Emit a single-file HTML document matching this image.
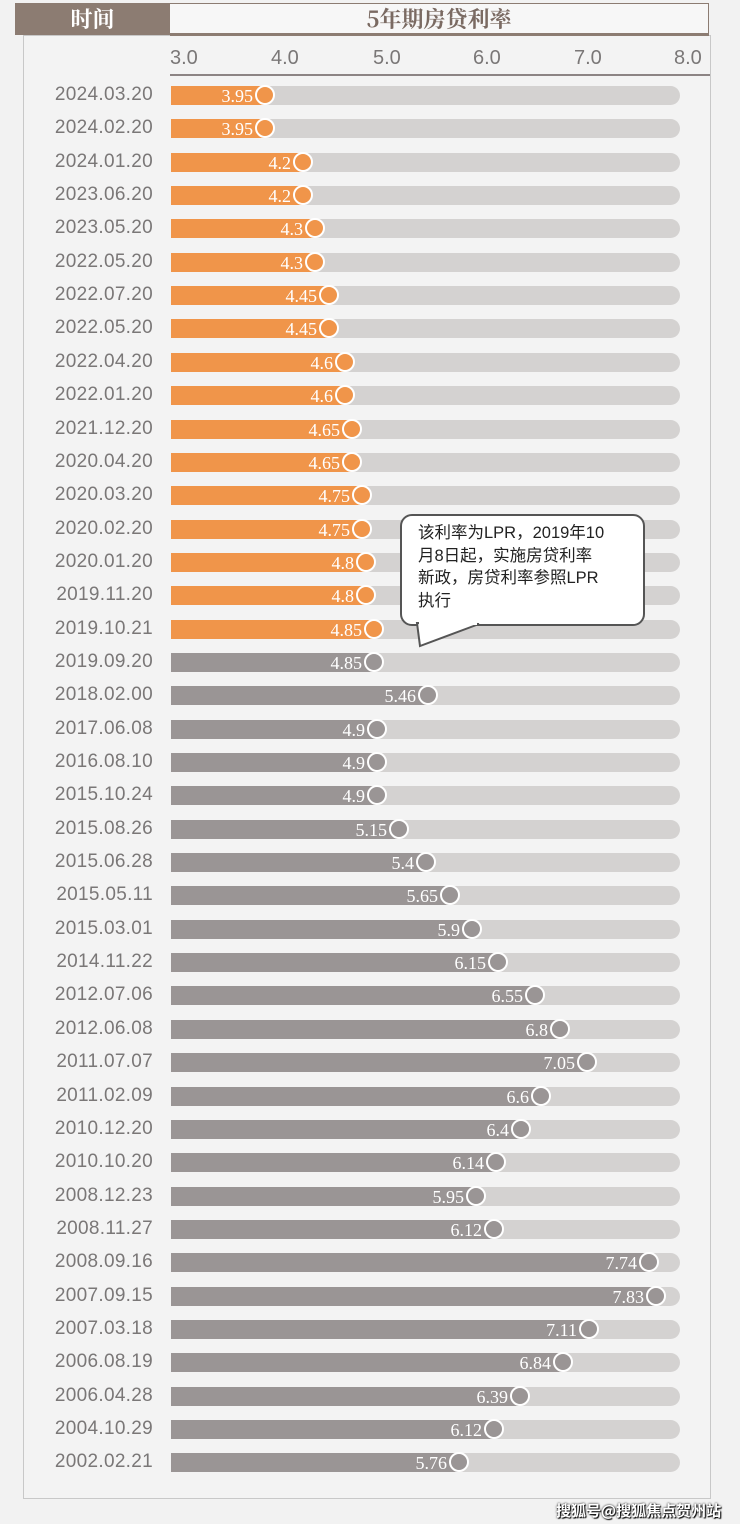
<!DOCTYPE html>
<html><head><meta charset="utf-8"><style>
body{margin:0;width:740px;height:1524px;background:#f2f2f2;position:relative;overflow:hidden;font-family:"Liberation Serif","Noto Serif CJK SC",serif}
.a{position:absolute}
.row{position:absolute;left:0;width:740px;height:20px}
.dt{position:absolute;left:20px;width:133px;text-align:right;font-family:"Liberation Sans",sans-serif;font-size:19px;color:#7a7777;top:0;line-height:20px;letter-spacing:0.3px}
.tr{position:absolute;left:171px;width:509px;height:19px;top:1px;background:#d4d2d1;border-radius:0 10px 10px 0}
.br{position:absolute;left:171px;height:19px;top:1px}
.c{position:absolute;width:16px;height:16px;border:2px solid #fff;border-radius:50%;top:0}
.v{position:absolute;right:0;color:#fff;font-size:18px;line-height:21px;top:0}
</style></head><body>
<div class="a" style="left:23px;top:35px;width:686px;height:1462px;border:1px solid #c8c8c8;background:#f3f3f3"></div>
<div class="a" style="left:15px;top:3px;width:155px;height:32px;background:#8c7c72;color:#fff;font-size:22px;font-weight:bold;text-align:center;line-height:32px;font-family:'Noto Serif CJK SC',serif">时间</div>
<div class="a" style="left:170px;top:3px;width:538px;height:29px;border:1px solid #8c7c72;border-bottom:3px solid #8c7c72;border-left:none;background:#f7f7f7;color:#7a6a62;font-size:22px;text-align:center;line-height:30px;font-weight:bold;font-family:'Noto Serif CJK SC',serif">5年期房贷利率</div>
<div class="a" style="left:170px;top:74px;width:540px;height:2px;background:#8c8484"></div>
<div class="a" style="top:47px;left:0;width:740px;font-family:'Liberation Sans',sans-serif;font-size:20px;color:#7a7777">
<span class="a" style="left:170px">3.0</span><span class="a" style="left:271px">4.0</span><span class="a" style="left:373px">5.0</span><span class="a" style="left:473px">6.0</span><span class="a" style="left:574px">7.0</span><span class="a" style="left:674px">8.0</span></div>
<div id="rows"></div>
<div class="a" style="left:400px;top:514px;width:245px;height:112px;background:#fff;border:2px solid #555;border-radius:12px;box-sizing:border-box;padding:6px 0 0 16px;font-family:'Liberation Sans','Noto Sans CJK SC',sans-serif;font-size:16.5px;line-height:22.5px;color:#222;z-index:3">该利率为LPR，2019年10<br>月8日起，实施房贷利率<br>新政，房贷利率参照LPR<br>执行</div>
<svg class="a" style="left:415px;top:622px;z-index:4" width="80" height="30"><polygon points="2,1 5,24 64,2" fill="#fff" stroke="#555" stroke-width="2"/><rect x="4" y="0" width="58" height="3" fill="#fff"/></svg>
<div class="a" style="left:556px;top:1500px;font-family:'Noto Sans CJK SC',sans-serif;font-weight:bold;font-size:15px;color:#fff;text-shadow:0 0 2px #000,1px 1px 1px #000">搜狐号@搜狐焦点贺州站</div>
<script>
var d=[["2024.03.20","3.95",265,1],["2024.02.20","3.95",265,1],["2024.01.20","4.2",303,1],["2023.06.20","4.2",303,1],["2023.05.20","4.3",315,1],["2022.05.20","4.3",315,1],["2022.07.20","4.45",329,1],["2022.05.20","4.45",329,1],["2022.04.20","4.6",345,1],["2022.01.20","4.6",345,1],["2021.12.20","4.65",352,1],["2020.04.20","4.65",352,1],["2020.03.20","4.75",362,1],["2020.02.20","4.75",362,1],["2020.01.20","4.8",366,1],["2019.11.20","4.8",366,1],["2019.10.21","4.85",374,1],["2019.09.20","4.85",374,0],["2018.02.00","5.46",428,0],["2017.06.08","4.9",377,0],["2016.08.10","4.9",377,0],["2015.10.24","4.9",377,0],["2015.08.26","5.15",399,0],["2015.06.28","5.4",426,0],["2015.05.11","5.65",450,0],["2015.03.01","5.9",472,0],["2014.11.22","6.15",498,0],["2012.07.06","6.55",535,0],["2012.06.08","6.8",560,0],["2011.07.07","7.05",587,0],["2011.02.09","6.6",541,0],["2010.12.20","6.4",521,0],["2010.10.20","6.14",496,0],["2008.12.23","5.95",476,0],["2008.11.27","6.12",494,0],["2008.09.16","7.74",649,0],["2007.09.15","7.83",656,0],["2007.03.18","7.11",589,0],["2006.08.19","6.84",563,0],["2006.04.28","6.39",520,0],["2004.10.29","6.12",494,0],["2002.02.21","5.76",459,0]];
var h="";d.forEach(function(r,i){var y=85+i*33.35,col=r[3]?"#f0954a":"#9a9595",w=r[2]-171;
h+='<div class="row" style="top:'+y+'px"><div class="dt">'+r[0]+'</div><div class="tr"></div><div class="br" style="width:'+w+'px;background:'+col+'"><span class="v" style="right:12px">'+r[1]+'</span></div><div class="c" style="left:'+(r[2]-10)+'px;background:'+col+'"></div></div>';});
document.getElementById("rows").innerHTML=h;
</script>
</body></html>
